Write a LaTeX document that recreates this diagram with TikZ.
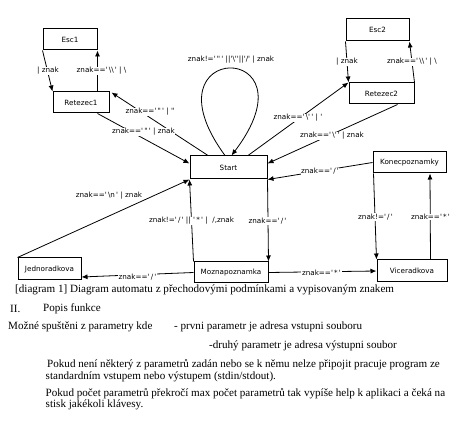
\documentclass[tikz,border=0pt]{standalone}
\usepackage{fontspec}
\setmainfont{Liberation Serif}
\newfontfamily\labfont{DejaVu Sans}[Ligatures=TeXOff]
\usetikzlibrary{arrows.meta}
\begin{document}
\begin{tikzpicture}[x=1pt,y=-1pt,
  box/.style={draw, line width=1pt, minimum height=21pt, inner sep=0pt,
    font=\labfont\fontsize{7.2}{8}\selectfont},
  conn/.style={draw, line width=0.8pt, -{Latex[length=6pt,width=5pt]}},
  lab/.style={fill=white, inner sep=0.6pt, font=\labfont\fontsize{7.2}{8}\selectfont},
  txt/.style={anchor=west, inner sep=0pt, font=\fontsize{11.1}{13}\selectfont}]
\fill[white] (0,0) rectangle (472,425);
\useasboundingbox (0,0) rectangle (472,425);
% states
\node[box, minimum width=54pt] (esc1) at (70,39.5) {Esc1};
\node[box, minimum width=56pt] (ret1) at (81,102.5) {Retezec1};
\node[box, minimum width=63pt, minimum height=22pt] (esc2) at (377.5,30) {Esc2};
\node[box, minimum width=65pt] (ret2) at (381.5,93.5) {Retezec2};
\node[box, minimum width=77pt, minimum height=23pt] (start) at (228.5,167.5) {Start};
\node[box, minimum width=73pt] (konec) at (409.5,162.5) {Konecpoznamky};
\node[box, minimum width=70pt, minimum height=22pt] (vice) at (412,271) {Viceradkova};
\node[box, minimum width=74pt] (mozna) at (231,272.5) {Moznapoznamka};
\node[box, minimum width=63pt, minimum height=22pt] (jedno) at (49.5,269) {Jednoradkova};
% connectors
\draw[conn] (esc1.south west) -- (ret1.north west);
\draw[conn] ([xshift=-12pt]ret1.north east) -- (esc1.south east);
\draw[conn] ([xshift=-20.5pt]start.north) -- ([xshift=2pt,yshift=-1pt]ret1.north east);
\draw[conn] ([xshift=-12pt]ret1.south east) -- ([yshift=-8pt]start.north west);
\draw[conn] ([xshift=-3.5pt]start.north) .. controls +(-85,-116) and +(88,-116) .. ([xshift=3pt]start.north);
\draw[conn] (ret2.north east) -- (esc2.south east);
\draw[conn] (esc2.south west) -- (ret2.north west);
\draw[conn] ([xshift=19.5pt]start.north) -- (ret2.north west);
\draw[conn] ([xshift=-17pt]ret2.south east) -- ([yshift=-8pt]start.north east);
\draw[conn] (konec.west) -- (start.south east);
\draw[conn] (start.south east) -- (mozna.north east);
\draw[conn] (mozna.north west) -- (start.south west);
\draw[conn] (jedno.north west) -- (start.south west);
\draw[conn] (mozna.west) -- ([yshift=-8pt]jedno.east);
\draw[conn] (mozna.east) -- (vice.west);
\draw[conn] ([xshift=1pt]konec.south west) -- (vice.north west);
\draw[conn] ([xshift=-17pt]vice.north east) -- ([xshift=-16.5pt]konec.south east);
% connector labels
\node[lab] (l1) at (48,71) {| znak};
\node[lab] (l2) at (101.5,71) {znak=='\,\textbackslash\textbackslash\,' | \textbackslash};
\node[lab] (l3) at (150,112) {znak=='\,"\,' | "};
\node[lab] (l4) at (143.5,132) {znak=='\,"\,' | znak};
\node[lab] (l5) at (231,60) {znak!='\,"\,' ||'\textbackslash''||'/' | znak};
\node[lab] (l6) at (412,62) {znak=='\,\textbackslash\textbackslash\,' | \textbackslash};
\node[lab] (l7) at (347,62) {| znak};
\node[lab] (l8) at (298,118) {znak=='\,\textbackslash'\,' | '};
\node[lab] (l9) at (332,136) {znak=='\,\textbackslash'\,' | znak};
\node[lab] (l10) at (320,171.5) {znak=='\,/\,'};
\node[lab] (l11) at (267.5,221) {znak=='\,/\,'};
\node[lab] (l12) at (191.5,221) {znak!='\,/\,' || '\,*\,' |\ \ /,znak};
\node[lab] (l13) at (109,196) {znak=='\,\textbackslash n\,' | znak};
\node[lab] (l14) at (137.5,277) {znak=='\,/\,'};
\node[lab] (l15) at (321.5,272.5) {znak=='\,*\,'};
\node[lab] (l16) at (375.5,217) {znak!='\,/\,'};
\node[lab] (l17) at (430.5,217) {znak=='\,*\,'};
% text below
\node[txt] (t1) at (15,290) {[diagram 1] Diagram automatu z přechodovými podmínkami a vypisovaným znakem};
\node[txt] (t2) at (10,309) {II.};
\node[txt] (t3) at (43,309) {Popis funkce};
\node[txt] (t4) at (8,327) {Možné spuštěni z parametry kde};
\node[txt] (t5) at (174,327) {- prvni parametr je adresa vstupni souboru};
\node[txt] (t6) at (209,346) {-druhý parametr je adresa výstupni soubor};
\node[txt] (t7) at (47,365) {Pokud není některý z parametrů zadán nebo se k němu nelze připojit pracuje program ze};
\node[txt] (t8) at (45.5,377) {standardním vstupem nebo výstupem (stdin/stdout).};
\node[txt] (t9) at (45.5,394) {Pokud počet parametrů překročí max počet parametrů tak vypíše help k aplikaci a čeká na};
\node[txt] (t10) at (45.5,405) {stisk jakékoli klávesy.};
\end{tikzpicture}
\end{document}
